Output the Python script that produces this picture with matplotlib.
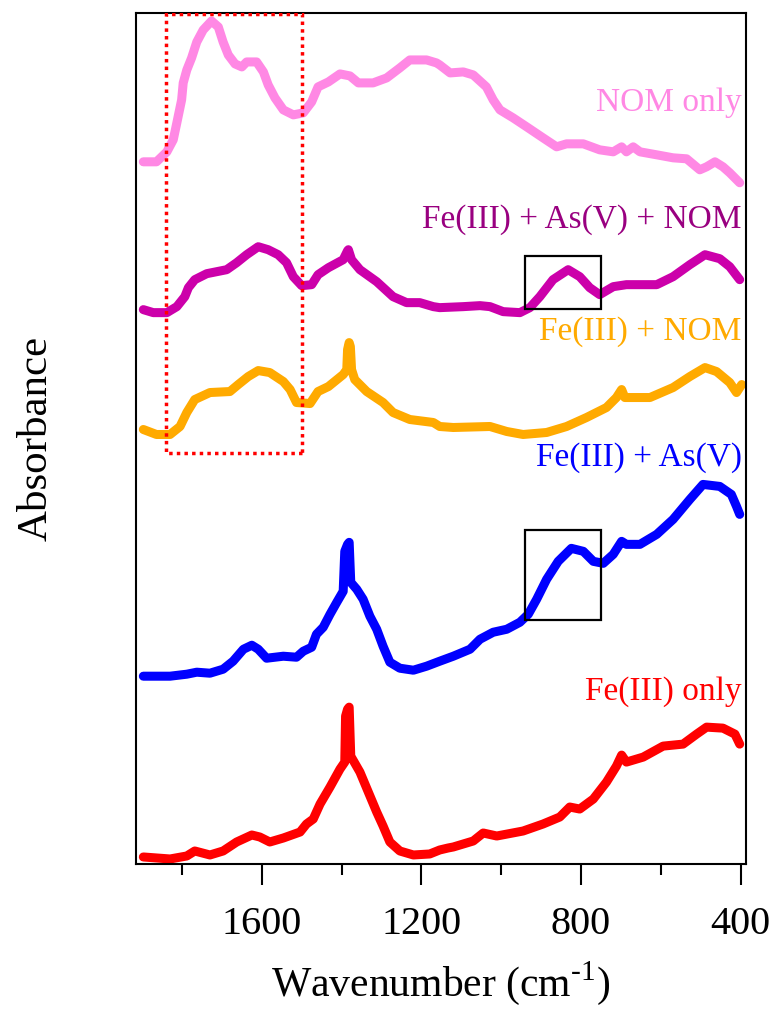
import matplotlib
matplotlib.use('Agg')
import matplotlib.pyplot as plt
from matplotlib.patches import Rectangle
from matplotlib.ticker import MultipleLocator

plt.rcParams['font.family'] = ['Liberation Serif', 'DejaVu Serif']
plt.rcParams['mathtext.fontset'] = 'custom'
plt.rcParams['mathtext.rm'] = 'Liberation Serif'

# --- spectra (stacked absorbance, a.u.) ---
nom_wn = [1897, 1864, 1838, 1822, 1813, 1801, 1797, 1788, 1776, 1763, 1747, 1726, 1709,
          1697, 1684, 1667, 1650, 1638, 1613, 1596, 1584, 1567, 1546, 1521, 1496, 1475,
          1459, 1433, 1404, 1379, 1358, 1321, 1287, 1254, 1229, 1187, 1162, 1154, 1128,
          1095, 1070, 1037, 1020, 1003, 970, 936, 895, 861, 836, 794, 753, 719, 698, 686,
          669, 652, 610, 569, 535, 502, 485, 464, 444, 427, 402]
nom_abs = [7.03, 7.03, 7.13, 7.25, 7.42, 7.65, 7.82, 7.95, 8.07, 8.23, 8.35, 8.44, 8.38,
           8.23, 8.10, 8.01, 7.98, 8.03, 8.03, 7.93, 7.80, 7.67, 7.55, 7.50, 7.52, 7.63,
           7.78, 7.83, 7.91, 7.89, 7.82, 7.82, 7.87, 7.97, 8.05, 8.05, 8.02, 8.00, 7.92,
           7.93, 7.90, 7.78, 7.65, 7.55, 7.47, 7.38, 7.27, 7.18, 7.21, 7.21, 7.15, 7.13,
           7.18, 7.13, 7.18, 7.13, 7.10, 7.07, 7.06, 6.95, 6.98, 7.03, 6.98, 6.92, 6.82]

feasnom_wn = [1897, 1872, 1838, 1813, 1793, 1784, 1768, 1738, 1688, 1663, 1638, 1609, 1584,
              1559, 1538, 1521, 1500, 1475, 1459, 1433, 1396, 1385, 1383, 1375, 1354, 1312,
              1271, 1237, 1204, 1170, 1154, 1095, 1053, 1028, 995, 953, 928, 903, 870, 832,
              803, 778, 753, 719, 686, 610, 569, 527, 489, 452, 427, 402]
feasnom_abs = [5.55, 5.52, 5.52, 5.58, 5.68, 5.77, 5.85, 5.91, 5.95, 6.02, 6.10, 6.18, 6.15,
               6.10, 6.02, 5.88, 5.79, 5.80, 5.90, 5.97, 6.05, 6.14, 6.15, 6.05, 5.95, 5.83,
               5.68, 5.62, 5.62, 5.58, 5.57, 5.58, 5.59, 5.58, 5.53, 5.52, 5.57, 5.68, 5.85,
               5.95, 5.88, 5.77, 5.70, 5.78, 5.80, 5.80, 5.88, 6.00, 6.10, 6.06, 5.98, 5.85]

fenom_wn = [1897, 1864, 1830, 1805, 1788, 1768, 1730, 1680, 1659, 1634, 1609, 1580, 1546,
            1529, 1513, 1479, 1459, 1433, 1396, 1387, 1385, 1381, 1378, 1375, 1367, 1337,
            1296, 1271, 1229, 1170, 1154, 1120, 1028, 986, 945, 886, 836, 786, 736, 711,
            698, 690, 627, 569, 527, 489, 460, 427, 410, 397]
fenom_abs = [4.35, 4.30, 4.30, 4.38, 4.52, 4.65, 4.72, 4.73, 4.80, 4.88, 4.94, 4.92, 4.83,
             4.75, 4.62, 4.61, 4.73, 4.78, 4.90, 4.95, 5.15, 5.22, 5.18, 4.95, 4.85, 4.73,
             4.62, 4.52, 4.45, 4.42, 4.38, 4.37, 4.38, 4.33, 4.30, 4.32, 4.38, 4.47, 4.57,
             4.67, 4.75, 4.67, 4.67, 4.77, 4.88, 4.97, 4.93, 4.82, 4.72, 4.80]

feas_wn = [1897, 1830, 1788, 1763, 1730, 1697, 1672, 1646, 1625, 1609, 1588, 1546, 1513,
           1496, 1475, 1463, 1446, 1429, 1412, 1396, 1392, 1385, 1381, 1377, 1362, 1346,
           1329, 1312, 1296, 1279, 1254, 1220, 1187, 1154, 1120, 1078, 1053, 1020, 986,
           953, 932, 911, 886, 857, 824, 794, 769, 744, 719, 698, 686, 652, 610, 569, 527,
           494, 452, 423, 410, 402]
feas_abs = [1.88, 1.88, 1.90, 1.92, 1.91, 1.95, 2.03, 2.15, 2.19, 2.15, 2.06, 2.08, 2.07,
            2.13, 2.17, 2.30, 2.37, 2.50, 2.62, 2.73, 3.13, 3.20, 3.22, 2.82, 2.75, 2.65,
            2.48, 2.35, 2.18, 2.02, 1.96, 1.94, 1.98, 2.03, 2.08, 2.15, 2.25, 2.32, 2.35,
            2.42, 2.50, 2.65, 2.85, 3.03, 3.16, 3.13, 3.03, 3.01, 3.10, 3.23, 3.20, 3.20,
            3.30, 3.45, 3.65, 3.80, 3.78, 3.70, 3.58, 3.50]

fe_wn = [1897, 1830, 1788, 1768, 1730, 1697, 1663, 1625, 1605, 1580, 1546, 1504, 1488,
         1471, 1454, 1429, 1404, 1392, 1390, 1385, 1381, 1377, 1354, 1333, 1312, 1296,
         1279, 1254, 1220, 1179, 1154, 1133, 1120, 1070, 1045, 1011, 945, 895, 853, 828,
         803, 769, 736, 711, 698, 686, 644, 594, 544, 510, 485, 444, 414, 402]
fe_abs = [0.07, 0.05, 0.08, 0.13, 0.09, 0.13, 0.22, 0.29, 0.27, 0.22, 0.26, 0.32, 0.40,
          0.45, 0.60, 0.77, 0.95, 1.02, 1.48, 1.55, 1.57, 1.08, 0.92, 0.72, 0.52, 0.38,
          0.22, 0.13, 0.09, 0.10, 0.14, 0.16, 0.17, 0.23, 0.31, 0.28, 0.33, 0.40, 0.47,
          0.57, 0.55, 0.65, 0.82, 0.98, 1.09, 1.02, 1.07, 1.18, 1.20, 1.30, 1.37, 1.36,
          1.30, 1.20]

labels = ['NOM only', 'Fe(III) + As(V) + NOM', 'Fe(III) + NOM', 'Fe(III) + As(V)', 'Fe(III) only']
label_y = [7.62, 6.45, 5.33, 4.07, 1.73]
line_colors = ['#FF88E4', '#CC00AA', '#FFAA00', '#0000FF', '#FF0000']
text_colors = ['#FF88E4', '#990080', '#FFAA00', '#0000FF', '#FF0000']

# highlighted regions
amide_box = (1841, 1499, 4.11, 8.51)   # wn_left, wn_right, y_bottom, y_top
as_boxes = [(939, 750, 5.56, 6.09), (939, 750, 2.44, 3.34)]

fig = plt.figure(figsize=(7.77, 10.15), dpi=100)
ax = fig.add_axes([0.1747, 0.1488, 0.785, 0.8384])

series = [(nom_wn, nom_abs), (feasnom_wn, feasnom_abs), (fenom_wn, fenom_abs),
          (feas_wn, feas_abs), (fe_wn, fe_abs)]
for (wn, ab), c in zip(series, line_colors):
    ax.plot(wn, ab, color=c, lw=6.5, solid_joinstyle='round', solid_capstyle='round')

for lab, ly, tc in zip(labels, label_y, text_colors):
    ax.text(397, ly, lab, color=tc, fontsize=24, ha='right', va='center')

x0, x1, y0, y1 = amide_box
ax.add_patch(Rectangle((x1, y0), x0 - x1, y1 - y0, fill=False, edgecolor='#FF0000',
                       linestyle=(0, (1, 1.2)), lw=2.5, zorder=5))
for bx0, bx1, by0, by1 in as_boxes:
    ax.add_patch(Rectangle((bx1, by0), bx0 - bx1, by1 - by0, fill=False,
                           edgecolor='black', lw=1.6, zorder=5))

ax.set_xlim(1916, 387)
ax.set_ylim(0, 8.52)
ax.xaxis.set_major_locator(MultipleLocator(400))
ax.xaxis.set_minor_locator(MultipleLocator(200))
ax.set_yticks([])
ax.tick_params(axis='x', which='major', direction='out', length=15, width=1.5,
               labelsize=29, pad=15)
ax.tick_params(axis='x', which='minor', direction='out', length=8, width=1.5)
for s in ax.spines.values():
    s.set_linewidth(1.5)

ax.set_xlabel('Wavenumber (cm$^{\u2010\\mathrm{1}}$)', fontsize=30, labelpad=12)
ax.set_ylabel('Absorbance', fontsize=31, labelpad=58)

fig.savefig('out.png', dpi=100)
